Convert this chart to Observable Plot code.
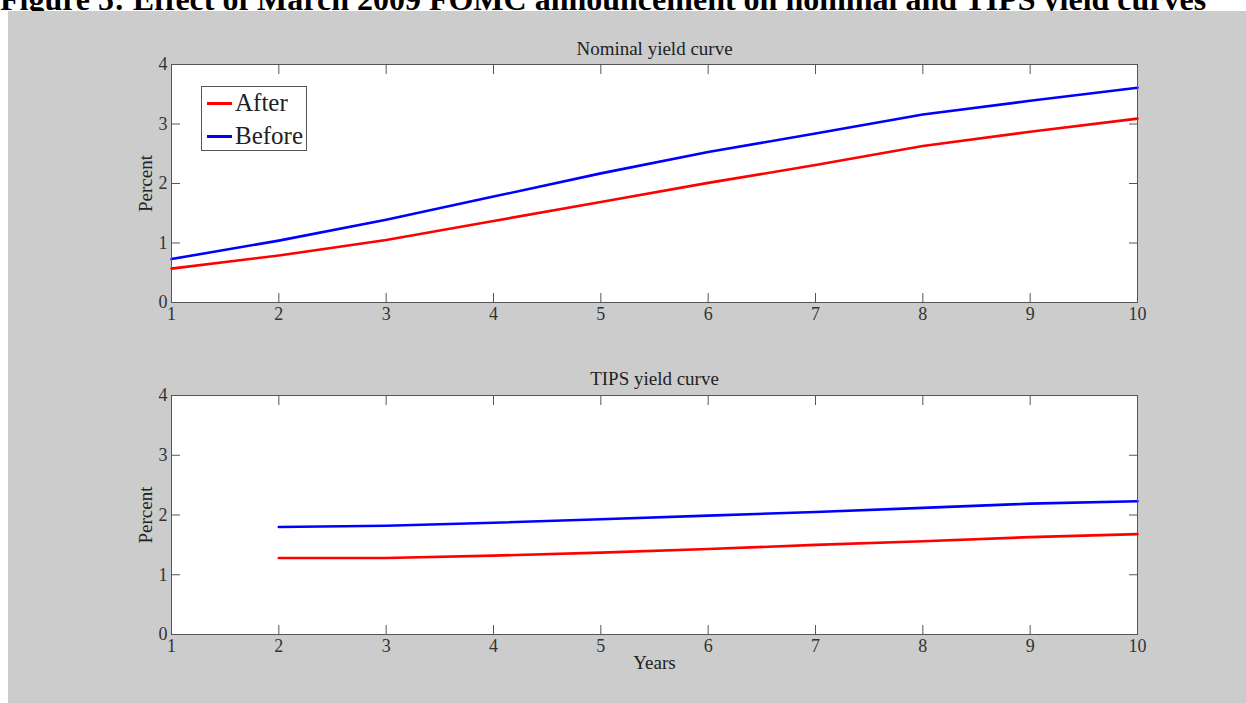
<!DOCTYPE html>
<html>
<head>
<meta charset="utf-8">
<script src="https://cdn.jsdelivr.net/npm/d3@7"></script>
<script src="https://cdn.jsdelivr.net/npm/@observablehq/plot@0.6"></script>
<style>
  html, body { margin: 0; padding: 0; background: #ffffff; }
  #wrap { position: relative; width: 1246px; height: 703px; overflow: hidden; }
  #title { position: absolute; left: 0; top: -17px; white-space: nowrap;
    font: bold 32px/32px "Liberation Serif", "Times New Roman", serif; color: #000; }
  #bg { position: absolute; left: 8px; top: 11px; right: 0; bottom: 0; background: #cccccc; }
  .panel { position: absolute; left: 0; }
  #legend { position: absolute; left: 201px; top: 86px; width: 104px; height: 63px;
    background: #fff; border: 1px solid #555;
    font: 25px "Liberation Serif", "Times New Roman", serif; color: #222; }
  #legend .row { position: absolute; left: 5px; height: 30px; display: flex; align-items: center; }
  #legend .sw { width: 25px; height: 3px; margin-right: 3px; }
</style>
</head>
<body>
<div id="wrap">
  <div id="title">Figure 5: Effect of March 2009 FOMC announcement on nominal and TIPS yield curves</div>
  <div id="bg"></div>
</div>
<script>
// ---- data ----
const years = [1, 2, 3, 4, 5, 6, 7, 8, 9, 10];
const nominalAfter  = [0.57, 0.79, 1.05, 1.37, 1.69, 2.01, 2.31, 2.63, 2.87, 3.09];
const nominalBefore = [0.73, 1.04, 1.39, 1.78, 2.17, 2.53, 2.84, 3.16, 3.39, 3.61];
const tipsYears  = [2, 3, 4, 5, 6, 7, 8, 9, 10];
const tipsAfter  = [1.28, 1.28, 1.32, 1.37, 1.43, 1.50, 1.56, 1.63, 1.68];
const tipsBefore = [1.80, 1.82, 1.87, 1.93, 1.99, 2.05, 2.12, 2.19, 2.23];
const seriesNames = ["After", "Before"];
const seriesColors = ["#ff0000", "#0000ff"];
const xTicks = [1, 2, 3, 4, 5, 6, 7, 8, 9, 10];
const yTicks = [0, 1, 2, 3, 4];
const panelTitles = ["Nominal yield curve", "TIPS yield curve"];
const yLabel = "Percent";
const xLabel = "Years";

function rows(xs, after, before) {
  const out = [];
  xs.forEach((x, i) => out.push({year: x, value: after[i], series: seriesNames[0]}));
  xs.forEach((x, i) => out.push({year: x, value: before[i], series: seriesNames[1]}));
  return out;
}

const FONT = "'Liberation Serif', 'Times New Roman', serif";
const fmt = d => String(d);

function panel(data, title, opts) {
  const marks = [
    Plot.frame({fill: "white", stroke: null}),
    Plot.line(data, {x: "year", y: "value", z: "series",
      stroke: d => seriesColors[seriesNames.indexOf(d.series)], strokeWidth: 2.6}),
    Plot.frame({stroke: "#555", strokeWidth: 1}),
    Plot.axisX(xTicks, {anchor: "bottom", tickSize: 0, tickPadding: 5, tickFormat: fmt, label: null, fill: "#333", fontSize: 18}),
    Plot.axisY(yTicks, {anchor: "left", tickSize: 0, tickPadding: 4, tickFormat: fmt, label: null, fill: "#333", fontSize: 18}),
    Plot.axisX(xTicks, {anchor: "bottom", tickSize: -9, tickFormat: () => "", label: null, stroke: "#555"}),
    Plot.axisX(xTicks, {anchor: "top", tickSize: -9, tickFormat: () => "", label: null, stroke: "#555"}),
    Plot.axisY(yTicks, {anchor: "left", tickSize: -9, tickFormat: () => "", label: null, stroke: "#555"}),
    Plot.axisY(yTicks, {anchor: "right", tickSize: -9, tickFormat: () => "", label: null, stroke: "#555"}),
    Plot.text([title], {frameAnchor: "top", textAnchor: "middle", dy: opts.titleDy, fontSize: 19, fill: "#222"}),
    Plot.text([yLabel], {frameAnchor: "left", textAnchor: "middle", dx: -26, rotate: -90, fontSize: 19, fill: "#222"})
  ];
  if (opts.xLabel) marks.push(Plot.text([opts.xLabel], {frameAnchor: "bottom", textAnchor: "middle", dy: 34, fontSize: 19, fill: "#222"}));
  const svg = Plot.plot({
    width: 1246, height: opts.height,
    marginLeft: 171, marginRight: 109, marginTop: opts.mt, marginBottom: opts.mb,
    x: {domain: [1, 10]},
    y: {domain: [0, 4]},
    style: {background: "transparent", fontFamily: FONT, fontSize: "18px", color: "#333", overflow: "visible"},
    marks
  });
  svg.classList.add("panel");
  svg.style.top = opts.top + "px";
  return svg;
}

const wrap = document.getElementById("wrap");
wrap.appendChild(panel(rows(years, nominalAfter, nominalBefore), panelTitles[0],
  {top: 20, height: 320, mt: 44, mb: 38, titleDy: -23}));
wrap.appendChild(panel(rows(tipsYears, tipsAfter, tipsBefore), panelTitles[1],
  {top: 350, height: 340, mt: 45, mb: 56, titleDy: -24, xLabel}));

// legend
const lg = document.createElement("div");
lg.id = "legend";
seriesNames.forEach((name, i) => {
  const r = document.createElement("div");
  r.className = "row";
  r.style.top = (1 + i * 33) + "px";
  const sw = document.createElement("div");
  sw.className = "sw";
  sw.style.background = seriesColors[i];
  const t = document.createElement("span");
  t.textContent = name;
  r.appendChild(sw); r.appendChild(t);
  lg.appendChild(r);
});
wrap.appendChild(lg);
</script>
</body>
</html>
